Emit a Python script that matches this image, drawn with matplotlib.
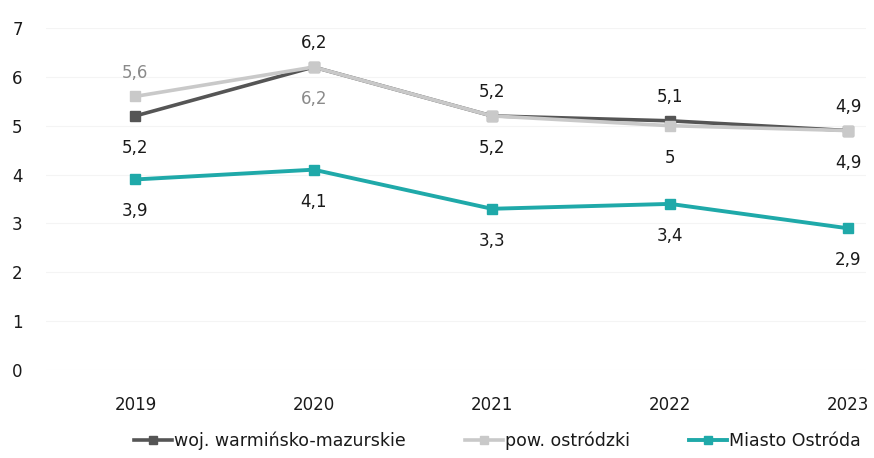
import matplotlib
matplotlib.use("Agg")
import matplotlib.pyplot as plt

years = ["2019", "2020", "2021", "2022", "2023"]
woj = [5.2, 6.2, 5.2, 5.1, 4.9]
pow_ostr = [5.6, 6.2, 5.2, 5.0, 4.9]
miasto = [3.9, 4.1, 3.3, 3.4, 2.9]
series_names = ["woj. warmińsko-mazurskie", "pow. ostródzki", "Miasto Ostróda"]

# label placement: +1 above the point, -1 below
woj_pos = [-1, 1, 1, 1, 1]
pow_pos = [1, -1, -1, -1, -1]
miasto_pos = [-1, -1, -1, -1, -1]


def fmt(v):
    return f"{v:g}".replace(".", ",")


def main():
    plt.rcParams["font.family"] = ["DejaVu Sans"]

    fig = plt.figure(figsize=(8.74, 4.58), dpi=100)
    ax = fig.add_axes([0.053, 0.192, 0.938, 0.747])

    x = list(range(len(years)))
    dark = "#555555"
    light = "#c9c9c9"
    teal = "#1fa9a9"

    ax.plot(x, woj, color=dark, lw=2.6, marker="s", ms=7, label=series_names[0], zorder=3)
    ax.plot(x, pow_ostr, color=light, lw=2.6, marker="s", ms=7, label=series_names[1], zorder=4)
    ax.plot(x, miasto, color=teal, lw=2.8, marker="s", ms=7, label=series_names[2], zorder=3)

    def labels(vals, pos, colors):
        for i, (v, p) in enumerate(zip(vals, pos)):
            dy = 17 if p > 0 else -23
            ax.annotate(fmt(v), (i, v), xytext=(0, dy), textcoords="offset points",
                        ha="center", va="center", fontsize=12, color=colors[i])

    labels(woj, woj_pos, ["#1a1a1a"] * 5)
    labels(pow_ostr, pow_pos, ["#8a8a8a", "#8a8a8a", "#1a1a1a", "#1a1a1a", "#1a1a1a"])
    labels(miasto, miasto_pos, ["#1a1a1a"] * 5)

    ax.set_xlim(-0.5, 4.1)
    ax.set_ylim(0, 7)
    ax.set_yticks(range(0, 8))
    ax.set_xticks(x)
    ax.set_xticklabels(years)
    ax.tick_params(axis="both", length=0, labelsize=12, colors="#1a1a1a")
    ax.tick_params(axis="y", pad=17)
    ax.tick_params(axis="x", pad=19)
    for s in ax.spines.values():
        s.set_visible(False)
    ax.grid(axis="y", color="#f4f4f4", lw=0.8)
    ax.set_axisbelow(True)

    fig.legend(loc="center", bbox_to_anchor=(0.569, 0.037), ncol=3, frameon=False,
               fontsize=12.5, handlelength=2.2, handletextpad=0.1, columnspacing=3.4,
               markerscale=0.8, labelcolor="#1a1a1a")

    fig.savefig("out.png", dpi=100)
    plt.close(fig)


if __name__ == "__main__":
    main()
